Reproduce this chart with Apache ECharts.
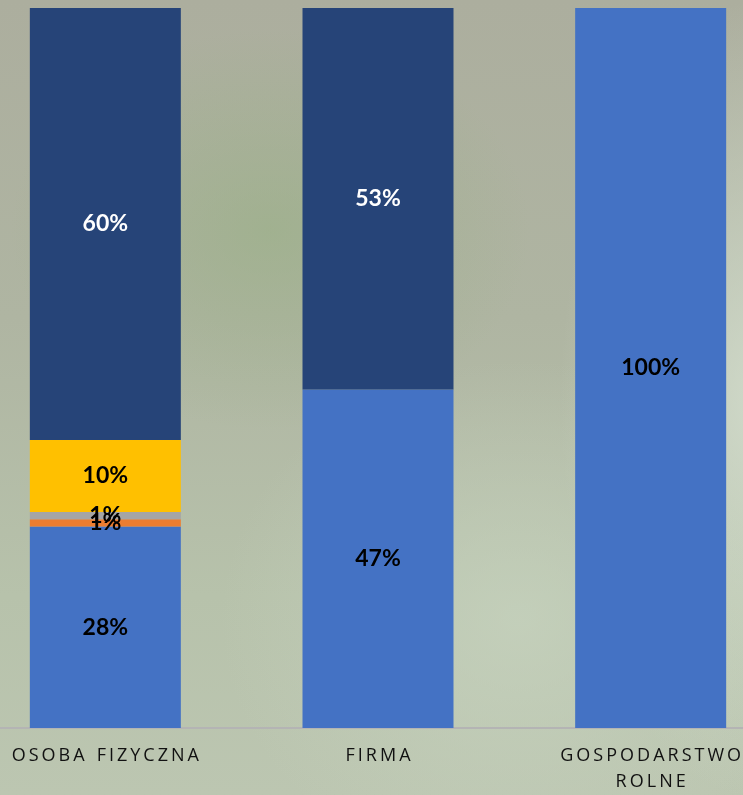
<!DOCTYPE html>
<html>
<head>
<meta charset="utf-8">
<script src="https://cdn.jsdelivr.net/npm/echarts@6/dist/echarts.min.js"></script>
<style>
  html, body { margin: 0; padding: 0; width: 743px; height: 795px; overflow: hidden; }
  body {
    position: relative;
    background:
      radial-gradient(ellipse 260px 200px at 270px 230px, rgba(150, 175, 130, 0.55), rgba(150, 175, 130, 0) 100%),
      radial-gradient(ellipse 300px 260px at 520px 620px, rgba(200, 212, 192, 0.7), rgba(200, 212, 192, 0) 100%),
      radial-gradient(ellipse 200px 400px at 760px 400px, rgba(215, 225, 210, 0.8), rgba(215, 225, 210, 0) 100%),
      linear-gradient(180deg, #acae9e 0%, #afb5a2 40%, #b7c2ab 75%, #bcc6b1 100%);
  }
  #chart { position: absolute; left: -31px; top: 0; width: 818px; height: 795px; }
</style>
</head>
<body>
<div id="chart"></div>
<script>
// kategorie i udziały procentowe
const categories = ['OSOBA FIZYCZNA', 'FIRMA', 'GOSPODARSTWO ROLNE'];
const seria1 = [28, 47, 100];
const seria2 = [1, 0, 0];
const seria3 = [1, 0, 0];
const seria4 = [10, 0, 0];
const seria5 = [60, 53, 0];

const chart = echarts.init(document.getElementById('chart'));

// rozstrzelony napis jak w oryginale
const spaced = function (txt) {
  const words = txt.split(' ').map(w => w.split('').join('\u2006'));
  return txt.length > 14 ? words.join('\n') : words.join('\u2006\u2006\u2006\u2006');
};

const labelFor = function (color) {
  return {
    show: true,
    position: 'inside',
    color: color,
    fontFamily: 'Lato',
    fontWeight: 'bold',
    fontSize: 23,
    formatter: p => (p.value ? p.value + '%' : '')
  };
};

const makeSeries = function (name, data, color, textColor) {
  return {
    name: name,
    type: 'bar',
    stack: 'total',
    barWidth: 151,
    data: data,
    itemStyle: { color: color },
    label: labelFor(textColor)
  };
};

chart.setOption({
  animation: false,
  grid: { left: 0, right: 0, top: 8, bottom: 65 },
  xAxis: {
    type: 'category',
    data: categories,
    axisTick: { show: false },
    axisLine: { lineStyle: { color: '#b4b4b4', width: 2 } },
    axisLabel: {
      margin: 15,
      color: '#111111',
      fontFamily: 'Open Sans',
      fontSize: 18,
      lineHeight: 26,
      formatter: spaced
    }
  },
  yAxis: {
    type: 'value',
    min: 0,
    max: 100,
    show: false,
    splitLine: { show: false }
  },
  series: [
    makeSeries('Seria 1', seria1, '#4472c4', '#000'),
    makeSeries('Seria 2', seria2, '#ed7d31', '#000'),
    makeSeries('Seria 3', seria3, '#a5a5a5', '#000'),
    makeSeries('Seria 4', seria4, '#ffc000', '#000'),
    makeSeries('Seria 5', seria5, '#264478', '#fff')
  ]
});
</script>
</body>
</html>
